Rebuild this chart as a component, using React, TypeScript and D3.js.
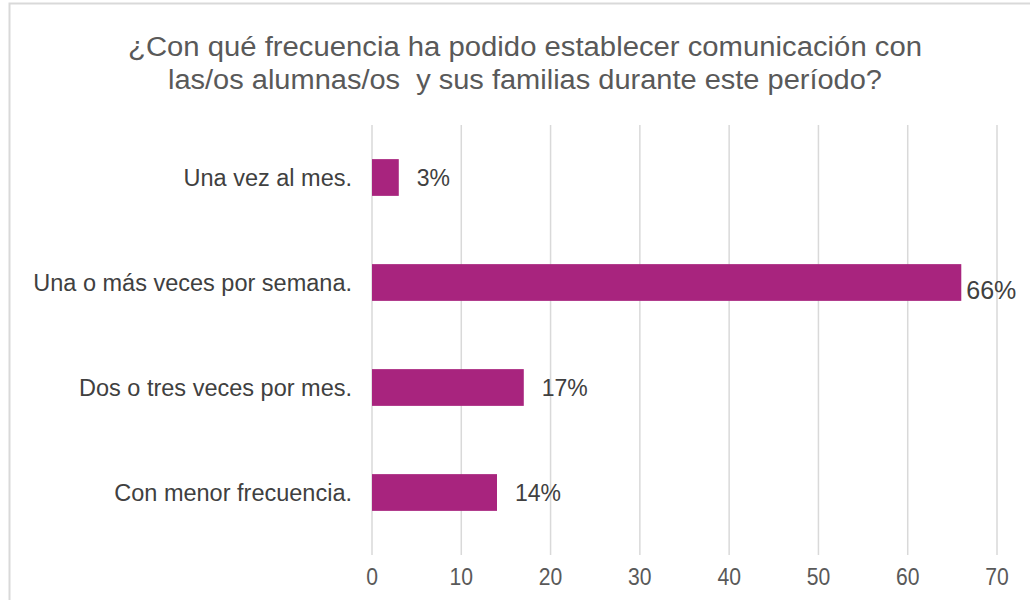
import React from "react";
import * as d3 from "d3";

const categories = [
  "Una vez al mes.",
  "Una o más veces por semana.",
  "Dos o tres veces por mes.",
  "Con menor frecuencia.",
];
const values = [3, 66, 17, 14];
const valueLabels = ["3%", "66%", "17%", "14%"];
const xTicks = [0, 10, 20, 30, 40, 50, 60, 70];
const titleLines = [
  "¿Con qué frecuencia ha podido establecer comunicación con",
  "las/os alumnas/os  y sus familias durante este período?",
];

export default function App() {
  const W = 1030, H = 600;
  const left = 372, right = 997, top = 125, bottom = 545;
  const x = d3.scaleLinear().domain([0, 70]).range([left, right]);
  const y = d3.scaleBand().domain(categories).range([top, bottom]).paddingInner(0.65).paddingOuter(0.325);
  const font = "'Liberation Sans', Arial, sans-serif";
  const titleLens = [794, 714];
  return (
    <svg width={W} height={H} style={{ position: "absolute", left: 0, top: 0, background: "#fff" }} fontFamily={font}>
      <rect x={9.5} y={3.5} width={W + 10} height={H + 10} fill="#fff" stroke="#d9d9d9" strokeWidth={2} />
      {titleLines.map((t, i) => (
        <text key={i} x={525} y={56 + i * 33} textAnchor="middle" fontSize={27} fill="#595959"
          textLength={titleLens[i]} lengthAdjust="spacingAndGlyphs" style={{ whiteSpace: "pre" }}>{t}</text>
      ))}
      {xTicks.map((t) => (
        <g key={t}>
          <line x1={x(t)} x2={x(t)} y1={top} y2={555} stroke="#d9d9d9" strokeWidth={1.5} />
          <text transform={`translate(${x(t)},585) scale(0.88,1)`} textAnchor="middle" fontSize={24} fill="#595959">{t}</text>
        </g>
      ))}
      {categories.map((c, i) => (
        <g key={c}>
          <rect x={x(0)} y={y(c)} width={x(values[i]) - x(0)} height={y.bandwidth()} fill="#a8247e" />
          <text x={352} y={(y(c) as number) + y.bandwidth() / 2 + 8} textAnchor="end" fontSize={23.5} fill="#404040">{c}</text>
          <text x={x(values[i]) + (values[i] > 60 ? 5 : 18)} y={(y(c) as number) + y.bandwidth() / 2 + 8 + (values[i] > 60 ? 8 : 0)} fontSize={values[i] > 60 ? 25 : 23} fill="#404040">{valueLabels[i]}</text>
        </g>
      ))}
    </svg>
  );
}
